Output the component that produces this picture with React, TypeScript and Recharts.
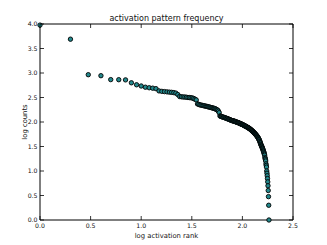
import React from 'react';
import { ScatterChart, Scatter, XAxis, YAxis, ReferenceLine } from 'recharts';

// activation pattern counts, sorted by rank (rank 1 first)
const counts: number[] = [
  9500, 4900, 923, 881, 733, 730, 724, 631, 575, 543,
  513, 500, 490, 479, 431, 422, 417, 412, 407, 403,
  398, 389, 363, 331, 327, 324, 323, 320, 316, 315,
  313, 309, 302, 292, 282, 234, 229, 224, 221, 219,
  216, 214, 211, 209, 207, 204, 202, 200, 197, 195,
  193, 191, 188, 186, 182, 178, 174, 166, 155, 133,
  131, 129, 128, 126, 125, 124, 122, 121, 120, 118,
  117, 116, 114, 113, 112, 110, 109, 108, 107, 106,
  105, 105, 104, 103, 102, 101, 100, 99, 98, 98,
  97, 96, 95, 94, 93, 92, 91, 90, 90, 89,
  88, 87, 86, 85, 84, 83, 82, 82, 81, 80,
  79, 78, 77, 76, 76, 75, 74, 73, 72, 71,
  70, 69, 68, 67, 66, 65, 64, 63, 62, 61,
  60, 59, 58, 57, 56, 55, 54, 53, 52, 51,
  50, 49, 48, 46, 45, 44, 43, 41, 40, 38,
  37, 35, 34, 33, 32, 31, 30, 29, 28, 27,
  26, 25, 24, 23, 22, 21, 19, 18, 17, 16,
  14, 13, 12, 10, 9, 8, 7, 6, 5, 4,
  3, 2, 1,
];

const xTicks: number[] = [0, 0.5, 1.0, 1.5, 2.0, 2.5];
const yTicks: number[] = [0, 0.5, 1.0, 1.5, 2.0, 2.5, 3.0, 3.5, 4.0];

const titleText = 'activation pattern frequency';
const xLabel = 'log activation rank';
const yLabel = 'log counts';

const points = counts.map((c, i) => ({ x: Math.log10(i + 1), y: Math.log10(c) }));

const FONT = '"DejaVu Sans", sans-serif';
const W = 327;
const H = 245;
const M = { top: 24, right: 34, bottom: 0, left: 0 };
const XH = 25;
const YW = 40;
const PLOT_TOP = M.top;
const PLOT_RIGHT = W - M.right;

const XTick = (props: any) => {
  const { x, y, payload } = props;
  return (
    <g>
      <line x1={x} y1={y} x2={x} y2={y - 4} stroke="#000" strokeWidth={0.8} />
      <line x1={x} y1={PLOT_TOP} x2={x} y2={PLOT_TOP + 4} stroke="#000" strokeWidth={0.8} />
      <text x={x} y={y + 7.5} textAnchor="middle" fontSize={6.2} fontFamily={FONT} fill="#111" stroke="none">
        {Number(payload.value).toFixed(1)}
      </text>
    </g>
  );
};

const YTick = (props: any) => {
  const { x, y, payload } = props;
  return (
    <g>
      <line x1={x} y1={y} x2={x + 4} y2={y} stroke="#000" strokeWidth={0.8} />
      <line x1={PLOT_RIGHT} y1={y} x2={PLOT_RIGHT - 4} y2={y} stroke="#000" strokeWidth={0.8} />
      <text x={x - 2.5} y={y + 2.2} textAnchor="end" fontSize={6.2} fontFamily={FONT} fill="#111" stroke="none">
        {Number(payload.value).toFixed(1)}
      </text>
    </g>
  );
};

const Dot = (props: any) => {
  const { cx, cy } = props;
  if (cx == null || cy == null) return null;
  return <circle cx={cx} cy={cy} r={2.2} fill="#23898d" stroke="#000" strokeWidth={0.9} />;
};

export default function App() {
  return (
    <div style={{ position: 'absolute', left: 0, top: 0, width: W, height: H, background: '#fff' }}>
      <div
        style={{
          position: 'absolute',
          left: YW,
          width: PLOT_RIGHT - YW,
          top: 14,
          textAlign: 'center',
          fontFamily: FONT,
          fontSize: 8,
          lineHeight: '10px',
          color: '#111',
        }}
      >
        {titleText}
      </div>
      <ScatterChart width={W} height={H} margin={M}>
        <XAxis
          type="number"
          dataKey="x"
          domain={[0, 2.5]}
          ticks={xTicks}
          interval={0}
          height={XH}
          tickSize={0}
          tickMargin={0}
          tickLine={false}
          axisLine={{ stroke: '#000', strokeWidth: 1 }}
          tick={<XTick />}
          label={{ value: xLabel, position: 'center', dy: 3, fontSize: 6.8, fontFamily: FONT, fill: '#111' }}
        />
        <YAxis
          type="number"
          dataKey="y"
          domain={[0, 4]}
          ticks={yTicks}
          interval={0}
          width={YW}
          tickSize={0}
          tickMargin={0}
          tickLine={false}
          axisLine={{ stroke: '#000', strokeWidth: 1 }}
          tick={<YTick />}
          label={{ value: yLabel, position: 'center', angle: -90, dx: 5, fontSize: 6.8, fontFamily: FONT, fill: '#111' }}
        />
        <ReferenceLine y={4} stroke="#000" strokeWidth={1} />
        <ReferenceLine x={2.5} stroke="#000" strokeWidth={1} />
        <Scatter data={points} isAnimationActive={false} shape={<Dot />} />
      </ScatterChart>
    </div>
  );
}
